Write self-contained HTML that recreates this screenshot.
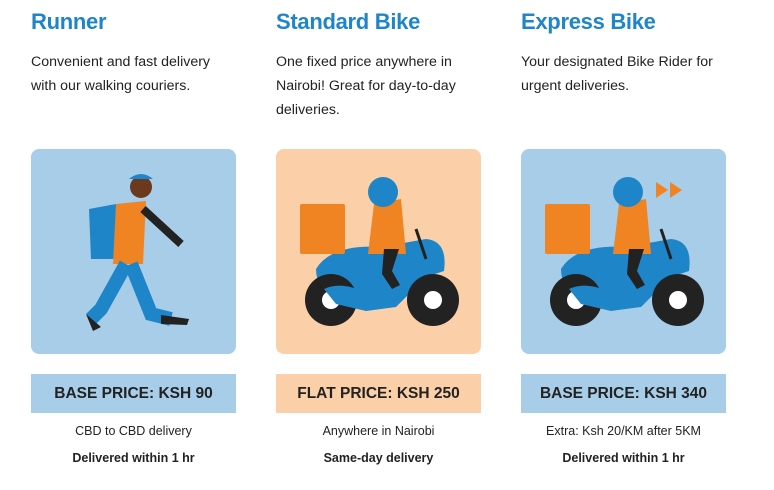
<!DOCTYPE html>
<html><head><meta charset="utf-8"><style>
body{margin:0;width:774px;height:490px;background:#fff;font-family:"Liberation Sans",sans-serif;position:relative;overflow:hidden;color:#222}
.col{position:absolute;top:0;width:205px}
h2{position:absolute;top:9px;left:0;margin:0;font-size:22px;font-weight:bold;color:#1e86c8;white-space:nowrap;letter-spacing:-0.3px}
.desc{position:absolute;top:50px;left:0;font-size:14.2px;line-height:24px;width:215px}
.img{position:absolute;top:149px;left:0;width:205px;height:205px;border-radius:8px}
.price{position:absolute;top:374px;left:0;width:205px;height:39px;line-height:39px;text-align:center;font-weight:bold;font-size:15.5px;color:#222}
.l1{position:absolute;top:424px;left:0;width:205px;text-align:center;font-size:12.5px}
.l2{position:absolute;top:451px;left:0;width:205px;text-align:center;font-size:12.5px;font-weight:bold}
</style></head><body>
<svg width="0" height="0" style="position:absolute"><defs>
<g id="bike">
<path d="M40 120 Q55 95 105 98 L150 90 Q172 92 168 122 L150 128 L120 158 L90 162 L60 150 Q40 140 40 120Z" fill="#1e86c8"/>
<circle cx="55" cy="151" r="26" fill="#222"/><circle cx="55" cy="151" r="9" fill="#fff"/>
<circle cx="157" cy="151" r="26" fill="#222"/><circle cx="157" cy="151" r="9" fill="#fff"/>
<path d="M48 140 Q70 130 100 150 L90 162 L60 155Z" fill="#1e86c8"/>
<rect x="24" y="55" width="45" height="50" fill="#f08423" rx="2"/>
<path d="M98 55 L125 50 L130 105 L92 105Z" fill="#f08423"/>
<circle cx="107" cy="43" r="15" fill="#1e86c8"/>
<path d="M108 100 L106 125 L116 140 L124 136 L116 122 L123 100Z" fill="#222"/>
<line x1="140" y1="80" x2="150" y2="110" stroke="#222" stroke-width="3"/>
</g></defs></svg>

<div class="col" style="left:31px">
<h2>Runner</h2>
<div class="desc">Convenient and fast delivery<br>with our walking couriers.</div>
<div class="img" style="background:#a8cde8">
<svg width="205" height="205">
<circle cx="110" cy="38" r="11" fill="#6b3a1e"/><path d="M98 30 Q110 20 122 30Z" fill="#1e86c8"/>
<path d="M58 60 L85 55 L85 110 L60 110Z" fill="#1e86c8"/>
<path d="M85 55 L115 52 L112 115 L82 115Z" fill="#f08423"/>
<path d="M112 60 L150 95" stroke="#222" stroke-width="8"/>
<path d="M95 115 L70 160 L60 170" stroke="#1e86c8" stroke-width="14" fill="none"/>
<path d="M100 115 L120 165 L140 170" stroke="#1e86c8" stroke-width="14" fill="none"/>
<path d="M55 165 L70 178 L62 182Z" fill="#222"/><path d="M130 166 L158 170 L156 176 L130 175Z" fill="#222"/>
</svg></div>
<div class="price" style="background:#a8cde8">BASE PRICE: KSH 90</div>
<div class="l1">CBD to CBD delivery</div>
<div class="l2">Delivered within 1 hr</div>
</div>

<div class="col" style="left:276px">
<h2>Standard Bike</h2>
<div class="desc">One fixed price anywhere in<br>Nairobi! Great for day-to-day<br>deliveries.</div>
<div class="img" style="background:#fbcfa8"><svg width="205" height="205"><use href="#bike"/></svg></div>
<div class="price" style="background:#fbcfa8">FLAT PRICE: KSH 250</div>
<div class="l1">Anywhere in Nairobi</div>
<div class="l2">Same-day delivery</div>
</div>

<div class="col" style="left:521px">
<h2>Express Bike</h2>
<div class="desc">Your designated Bike Rider for<br>urgent deliveries.</div>
<div class="img" style="background:#a8cde8"><svg width="205" height="205"><use href="#bike"/><path d="M135 33 L147 41 L135 49Z M149 33 L161 41 L149 49Z" fill="#f08423"/></svg></div>
<div class="price" style="background:#a8cde8">BASE PRICE: KSH 340</div>
<div class="l1">Extra: Ksh 20/KM after 5KM</div>
<div class="l2">Delivered within 1 hr</div>
</div>
</body></html>
